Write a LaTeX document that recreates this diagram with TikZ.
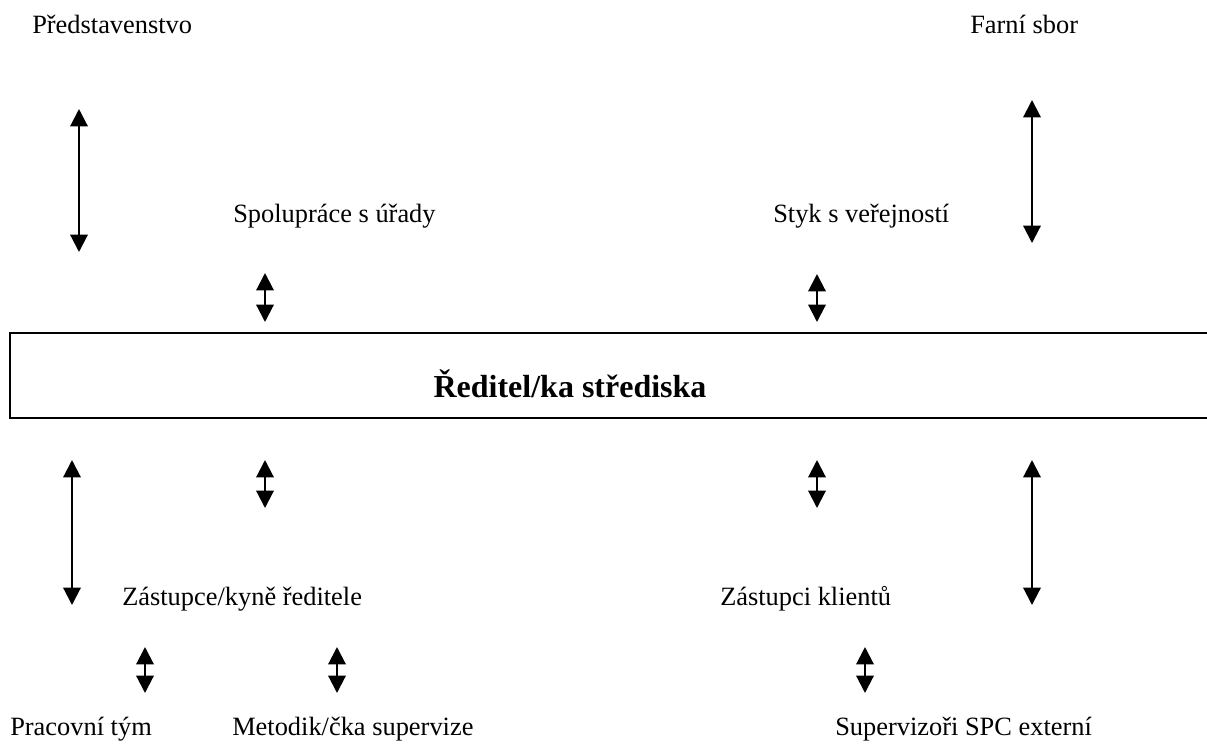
\documentclass[tikz,border=0pt]{standalone}
\usepackage{fontspec}
\setmainfont{Liberation Serif}
\usetikzlibrary{arrows.meta}
\tikzset{
  lbl/.style={anchor=base west, inner sep=0pt, font=\fontsize{19.8}{24}\selectfont},
  biarrow/.style={line width=1.6pt, {Triangle[length=13pt,width=13pt]}-{Triangle[length=13pt,width=13pt]}},
  mainbox/.style={line width=2.2pt}
}
\begin{document}
\begin{tikzpicture}[x=0.75pt,y=-0.75pt]
\useasboundingbox (0,0) rectangle (1207,747);
% texts
\node[lbl] (pred) at (32,33) {Představenstvo};
\node[lbl] (farni) at (970,33) {Farní sbor};
\node[lbl] (spol) at (233,222) {Spolupráce s úřady};
\node[lbl] (styk) at (773,222) {Styk s veřejností};
\node[lbl] (zast) at (122,605) {Zástupce/kyně ředitele};
\node[lbl] (klient) at (720,605) {Zástupci klientů};
\node[lbl] (prac) at (10,735) {Pracovní tým};
\node[lbl] (met) at (232,735) {Metodik/čka supervize};
\node[lbl] (sup) at (835,735) {Supervizoři SPC externí};
% main box (open to the right)
\draw[mainbox] (1210,333) -- (10,333) -- (10,418) -- (1210,418);
\node[inner sep=0pt, font=\fontsize{24}{28}\selectfont\bfseries] (red) at (570,384) {Ředitel/ka střediska};
% coordinates for arrows
\coordinate (a1t) at (79,109); \coordinate (a1b) at (79,252);
\coordinate (a2t) at (1032,100); \coordinate (a2b) at (1032,243);
\coordinate (a3t) at (265,273); \coordinate (a3b) at (265,322);
\coordinate (a4t) at (817,274); \coordinate (a4b) at (817,322);
\coordinate (b1t) at (72,460); \coordinate (b1b) at (72,605);
\coordinate (b2t) at (265,460); \coordinate (b2b) at (265,508);
\coordinate (b3t) at (817,460); \coordinate (b3b) at (817,508);
\coordinate (b4t) at (1032,460); \coordinate (b4b) at (1032,605);
\coordinate (c1t) at (145,647); \coordinate (c1b) at (145,693);
\coordinate (c2t) at (337,647); \coordinate (c2b) at (337,693);
\coordinate (c3t) at (865,647); \coordinate (c3b) at (865,693);
\foreach \n in {a1,a2,a3,a4,b1,b2,b3,b4,c1,c2,c3}
  \draw[biarrow] (\n t) -- (\n b);
\end{tikzpicture}
\end{document}
